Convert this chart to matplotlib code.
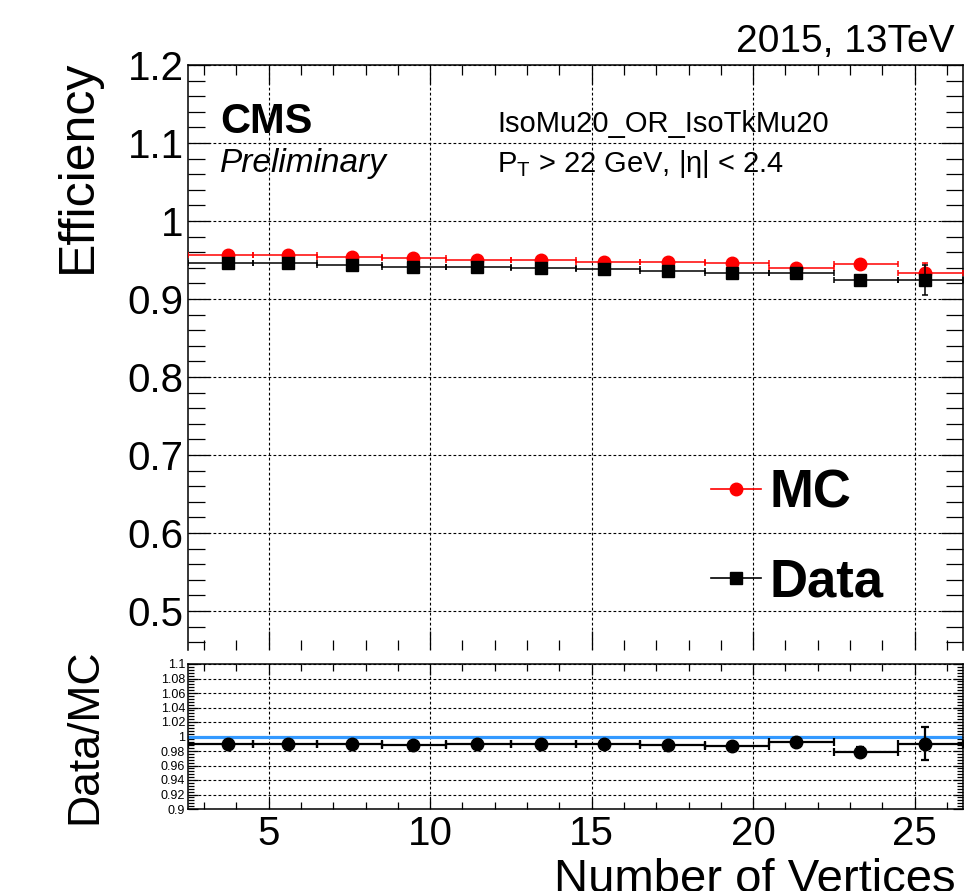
import matplotlib
matplotlib.use('Agg')
import matplotlib.pyplot as plt
from matplotlib.lines import Line2D
from matplotlib.ticker import MultipleLocator
import numpy as np

plt.rcParams['font.family'] = ['Liberation Sans', 'DejaVu Sans']
plt.rcParams['mathtext.fontset'] = 'custom'
plt.rcParams['mathtext.rm'] = 'Liberation Sans'
plt.rcParams['mathtext.it'] = 'Liberation Sans:italic'

# bins in number of vertices
bin_lo = [2.5, 4.5, 6.5, 8.5, 10.5, 12.5, 14.5, 16.5, 18.5, 20.5, 22.5, 24.5]
bin_hi = [4.5, 6.5, 8.5, 10.5, 12.5, 14.5, 16.5, 18.5, 20.5, 22.5, 24.5, 26.5]
nvtx = [3.73, 5.60, 7.57, 9.47, 11.44, 13.44, 15.38, 17.36, 19.34, 21.34, 23.32, 25.32]

eff_mc = [0.9564, 0.9562, 0.9543, 0.9526, 0.9500, 0.9500, 0.9479, 0.9479, 0.9458, 0.9393, 0.9444, 0.9330]
err_mc = [0.001, 0.001, 0.001, 0.001, 0.001, 0.001, 0.001, 0.002, 0.002, 0.003, 0.005, 0.013]
eff_data = [0.9458, 0.9458, 0.9436, 0.9414, 0.9406, 0.9393, 0.9380, 0.9363, 0.9337, 0.9337, 0.9244, 0.9244]
err_data = [0.002, 0.001, 0.001, 0.001, 0.001, 0.001, 0.002, 0.002, 0.003, 0.004, 0.006, 0.019]

ratio = [0.989, 0.989, 0.989, 0.988, 0.990, 0.989, 0.990, 0.988, 0.987, 0.993, 0.979, 0.990]
err_ratio = [0.002, 0.002, 0.002, 0.002, 0.002, 0.002, 0.002, 0.003, 0.004, 0.005, 0.007, 0.023]

x = np.array(nvtx)
xerr = [x - np.array(bin_lo), np.array(bin_hi) - x]

W, H = 973, 891
fig = plt.figure(figsize=(W/100, H/100), dpi=100)
ax = fig.add_axes([188/W, 1-650/H, 775/W, 585/H])
axr = fig.add_axes([188/W, 1-809/H, 775/W, 145/H])

grid_kw = dict(color='black', lw=0.8, linestyle=(0, (2.5, 2)))

# --- main panel
ax.errorbar(x, eff_mc, yerr=err_mc, xerr=xerr, fmt='o', color='red', ms=9,
            elinewidth=1.1, capsize=2.2, capthick=1.1, zorder=3)
ax.errorbar(x, eff_data, yerr=err_data, xerr=xerr, fmt='s', color='black', ms=9,
            elinewidth=1.1, capsize=2.2, capthick=1.1, zorder=4)
ax.set_xlim(2.5, 26.5)
ax.set_ylim(0.45, 1.2)
ax.xaxis.set_major_locator(MultipleLocator(5))
ax.xaxis.set_minor_locator(MultipleLocator(1))
ax.yaxis.set_major_locator(MultipleLocator(0.1))
ax.yaxis.set_minor_locator(MultipleLocator(0.02))
ax.grid(True, which='major', **grid_kw)
ax.tick_params(which='both', direction='in', top=True, right=True, width=0.9)
ax.tick_params(axis='x', which='major', length=14, labelbottom=False)
ax.tick_params(axis='x', which='minor', length=7)
ax.tick_params(axis='y', which='major', length=16, labelsize=29, pad=3)
ax.tick_params(axis='y', which='minor', length=12)
ax.set_yticks([0.5, 0.6, 0.7, 0.8, 0.9, 1.0, 1.1, 1.2])
ax.set_yticklabels(['0.5', '0.6', '0.7', '0.8', '0.9', '1', '1.1', '1.2'])
ax.spines['bottom'].set_visible(False)
for s in ['left', 'top', 'right']:
    ax.spines[s].set_linewidth(1.1)
ax.set_ylabel('Efficiency', fontsize=36, loc='top')
ax.yaxis.set_label_coords(-0.113, 1.009)

handles = [Line2D([0], [0], color='red', marker='o', ms=9, lw=1.2),
           Line2D([0], [0], color='black', marker='s', ms=9, lw=1.2)]
leg = ax.legend(handles, ['MC', 'Data'], loc='upper left', bbox_to_anchor=(0.641, 0.356),
                frameon=False, borderpad=0, handlelength=0.95, handletextpad=0.15,
                labelspacing=0.75, prop={'weight': 'bold', 'size': 38})

fig.text(220/W, 1-133/H, 'CMS', fontsize=30, fontweight='bold', ha='left', va='baseline')
fig.text(220/W, 1-172/H, 'Preliminary', fontsize=24, style='italic', ha='left', va='baseline')
fig.text(497/W, 1-132/H, 'IsoMu20_OR_IsoTkMu20', fontsize=21, ha='left', va='baseline')
fig.text(497/W, 1-172/H, r'P$_{\mathrm{T}}$ > 22 GeV, |η| < 2.4', fontsize=21, ha='left', va='baseline')
fig.text(955/W, 1-52/H, '2015, 13TeV', fontsize=28, ha='right', va='baseline')

# --- ratio panel
axr.axhline(1.0, color='#3399ff', lw=2.3, zorder=2)
axr.errorbar(x, ratio, yerr=err_ratio, xerr=xerr, fmt='o', color='black', ms=9,
             elinewidth=1.6, capsize=2.9, capthick=1.6, zorder=3)
axr.set_xlim(2.5, 26.5)
axr.set_ylim(0.9, 1.1)
axr.xaxis.set_major_locator(MultipleLocator(5))
axr.xaxis.set_minor_locator(MultipleLocator(1))
axr.yaxis.set_major_locator(MultipleLocator(0.02))
axr.yaxis.set_minor_locator(MultipleLocator(0.004))
axr.grid(True, which='major', **grid_kw)
axr.tick_params(which='both', direction='in', top=True, right=True, width=0.9)
axr.tick_params(axis='x', which='major', length=8, labelsize=29, pad=4)
axr.tick_params(axis='x', which='minor', length=5)
axr.tick_params(axis='y', which='major', length=7, labelsize=9, pad=2)
axr.tick_params(axis='y', which='minor', length=4)
rt = np.round(np.arange(0.9, 1.1001, 0.02), 2)
axr.set_yticks(rt)
axr.set_yticklabels(['1' if abs(v - 1) < 1e-9 else f'{v:g}' for v in rt])
for s in axr.spines.values():
    s.set_linewidth(1.1)
axr.set_ylabel('Data/MC', fontsize=32)
axr.yaxis.set_label_coords(-0.107, 0.5)
axr.set_xlabel('Number of Vertices', fontsize=34, loc='right')
axr.xaxis.set_label_coords(0.99, -0.34)

fig.savefig('out.png', dpi=100)
